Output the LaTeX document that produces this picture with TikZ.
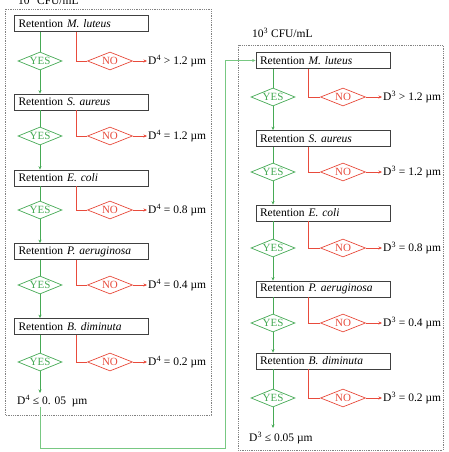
\documentclass[tikz,border=0pt]{standalone}
\usepackage{fontspec}
\setmainfont{Liberation Serif}
\usetikzlibrary{shapes.geometric,arrows.meta}
\definecolor{gr}{RGB}{70,170,85}
\definecolor{lgr}{RGB}{120,200,130}
\definecolor{rd}{RGB}{232,75,60}
\definecolor{fr}{RGB}{130,130,130}
\tikzset{
  retbox/.style={draw=black!75, fill=white, line width=0.7pt, minimum height=16pt, text width=126pt, inner xsep=4pt, inner ysep=0.5pt, align=left, font=\fontsize{11.5}{12}\selectfont, anchor=center},
  yesd/.style={diamond, draw=gr, text=gr, line width=0.7pt, aspect=2.5, inner sep=0pt, font=\fontsize{11}{12}\selectfont, minimum width=44pt, minimum height=18pt},
  nod/.style={diamond, draw=rd, text=rd, line width=0.7pt, aspect=2.5, inner sep=0pt, font=\fontsize{11}{12}\selectfont, minimum width=45pt, minimum height=18pt},
  res/.style={font=\fontsize{11.5}{13}\selectfont, anchor=west, inner sep=1pt},
  frm/.style={draw=fr, densely dotted, line width=0.8pt},
  gline/.style={draw=gr, line width=0.7pt},
  rline/.style={draw=rd, line width=0.7pt},
  garr/.style={gline, -{Stealth[length=3.5pt,width=3pt]}},
  rarr/.style={rline, -{Stealth[length=3.5pt,width=3pt]}},
}
\begin{document}
\begin{tikzpicture}[x=1pt,y=-1pt]
\useasboundingbox (0,0) rectangle (448,452);
\fill[white] (0,0) rectangle (448,452);
% frames
\draw[frm] (5,9) rectangle (211,415);
\draw[frm] (238,45) rectangle (443,450);
\node[font=\fontsize{11.5}{12}\selectfont, anchor=west, inner sep=0pt] (labL) at (18,0) {10\textsuperscript{4} CFU/mL};
\node[font=\fontsize{11.5}{12}\selectfont, anchor=west, inner sep=0pt] (labR) at (252,33) {10\textsuperscript{3} CFU/mL};
% left column
\node[retbox] (L1) at (81.5,23.5) {Retention \textit{M. luteus}};
\node[retbox] (L2) at (81.5,102) {Retention \textit{S. aureus}};
\node[retbox] (L3) at (81.5,178) {Retention \textit{E. coli}};
\node[retbox] (L4) at (81.5,251.5) {Retention \textit{P. aeruginosa}};
\node[retbox] (L5) at (81.5,326.5) {Retention \textit{B. diminuta}};
\foreach \i/\y in {1/61,2/136,3/210,4/285,5/362}{
  \node[yesd] (LY\i) at (40,\y) {YES};
  \node[nod] (LN\i) at (110,\y) {NO};
}
\node[res] (LR1) at (147,61) {D\textsuperscript{4} > 1.2 µm};
\node[res] (LR2) at (147,136) {D\textsuperscript{4} = 1.2 µm};
\node[res] (LR3) at (147,210) {D\textsuperscript{4} = 0.8 µm};
\node[res] (LR4) at (147,285) {D\textsuperscript{4} = 0.4 µm};
\node[res] (LR5) at (147,362) {D\textsuperscript{4} = 0.2 µm};
\node[res] (LF) at (16,401) {D\textsuperscript{4} ≤ 0. 05~~µm};
\coordinate (LFt) at (40,393);
\coordinate (LFb) at (40,407);
% right column
\node[retbox] (R1) at (323,60.5) {Retention \textit{M. luteus}};
\node[retbox] (R2) at (323,138.5) {Retention \textit{S. aureus}};
\node[retbox] (R3) at (323,213) {Retention \textit{E. coli}};
\node[retbox] (R4) at (323,289) {Retention \textit{P. aeruginosa}};
\node[retbox] (R5) at (323,361) {Retention \textit{B. diminuta}};
\foreach \i/\y in {1/97,2/172,3/248,4/323,5/398}{
  \node[yesd] (RY\i) at (273,\y) {YES};
  \node[nod] (RN\i) at (343,\y) {NO};
}
\node[res] (RR1) at (382,97) {D\textsuperscript{3} > 1.2 µm};
\node[res] (RR2) at (382,172) {D\textsuperscript{3} = 1.2 µm};
\node[res] (RR3) at (382,248) {D\textsuperscript{3} = 0.8 µm};
\node[res] (RR4) at (382,323) {D\textsuperscript{3} = 0.4 µm};
\node[res] (RR5) at (382,398) {D\textsuperscript{3} = 0.2 µm};
\node[res] (RF) at (248,438) {D\textsuperscript{3} ≤ 0.05 µm};
\coordinate (RFt) at (273,428);
% connectors
\foreach \i in {1,...,5}{
  \draw[gline] (L\i.south -| LY\i.north) -- (LY\i.north);
  \draw[rline] (76,0 |- L\i.south) -- (76,0 |- LN\i.west) -- (LN\i.west);
  \draw[rarr] (LN\i.east) -- (LR\i.west);
  \draw[gline] (R\i.south -| RY\i.north) -- (RY\i.north);
  \draw[rline] (308,0 |- R\i.south) -- (308,0 |- RN\i.west) -- (RN\i.west);
  \draw[rarr] (RN\i.east) -- (RR\i.west);
}
\foreach \i/\j in {1/2,2/3,3/4,4/5}{
  \draw[garr] (LY\i.south) -- (LY\i.south |- L\j.north);
  \draw[garr] (RY\i.south) -- (RY\i.south |- R\j.north);
}
\draw[garr] (LY5.south) -- (LFt);
\draw[garr] (RY5.south) -- (RFt);
% link
\draw[lgr, line width=0.8pt, -{Stealth[length=3.5pt,width=3pt]}] (LFb) -- (40,448) -- (225,448) -- (225,0 |- R1.west) -- (R1.west);
\end{tikzpicture}
\end{document}
